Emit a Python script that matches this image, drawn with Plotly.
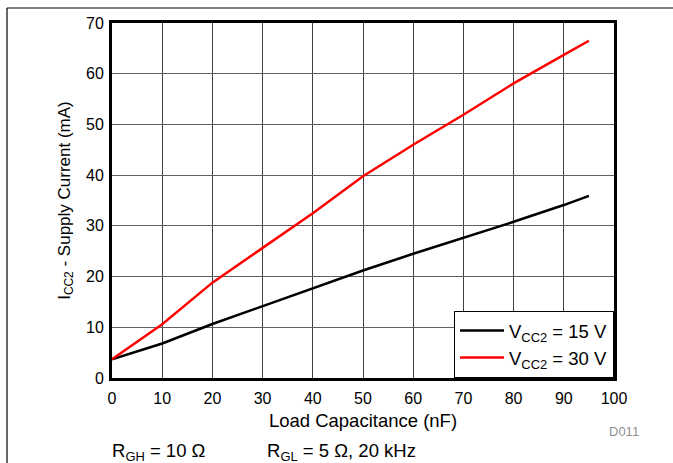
import plotly.graph_objects as go

load_nf = [0, 10, 20, 30, 40, 50, 60, 70, 80, 90, 95]
icc_15v = [3.7, 6.8, 10.65, 14.2, 17.6, 21.2, 24.5, 27.6, 30.8, 34.1, 35.9]
icc_30v = [3.7, 10.6, 18.8, 25.7, 32.5, 39.8, 46.0, 51.9, 58.1, 63.7, 66.5]
series_names = ["V<sub>CC2</sub> = 15 V", "V<sub>CC2</sub> = 30 V"]
x_ticks = list(range(0, 101, 10))
y_ticks = list(range(0, 71, 10))

FONT = "Liberation Sans, Arial, sans-serif"

fig = go.Figure()
fig.add_trace(go.Scatter(x=load_nf, y=icc_15v, mode="lines", name=series_names[0],
                         line=dict(color="black", width=2.5)))
fig.add_trace(go.Scatter(x=load_nf, y=icc_30v, mode="lines", name=series_names[1],
                         line=dict(color="red", width=2.5)))

W, H = 673, 463
L, R, T, B = 112, 614, 23, 378

def px2paper_x(px):
    return (px - L) / (R - L)

def px2paper_y(py):
    return (B - py) / (B - T)

fig.update_layout(
    width=W, height=H,
    margin=dict(l=L, r=W - R, t=T, b=H - B, pad=0),
    paper_bgcolor="white", plot_bgcolor="white",
    font=dict(family=FONT, color="black", size=16),
    showlegend=True,
    legend=dict(x=1, y=0, xanchor="right", yanchor="bottom",
                bgcolor="white", bordercolor="black", borderwidth=1,
                font=dict(size=18.5, family=FONT), tracegroupgap=0,
                itemwidth=44),
    xaxis=dict(range=[0, 100], tickvals=x_ticks, showgrid=True, gridcolor="#404040", gridwidth=1,
               showline=True, linecolor="black", linewidth=3, mirror=True, ticks="",
               zeroline=False, tickfont=dict(size=16), ticklabelstandoff=4,
               title=dict(text="Load Capacitance (nF)", font=dict(size=18.5), standoff=8)),
    yaxis=dict(range=[0, 70], tickvals=y_ticks, showgrid=True, gridcolor="#606060", gridwidth=1,
               showline=True, linecolor="black", linewidth=3, mirror=True, ticks="",
               zeroline=False, tickfont=dict(size=16), ticklabelstandoff=2,
               title=dict(text="I<sub>CC2</sub> - Supply Current (mA)", font=dict(size=17), standoff=12)),
)

# frame lines of the page
fig.add_shape(type="line", xref="paper", yref="paper",
              x0=px2paper_x(7), x1=px2paper_x(673), y0=px2paper_y(8), y1=px2paper_y(8),
              line=dict(color="black", width=1.2))
fig.add_shape(type="line", xref="paper", yref="paper",
              x0=px2paper_x(7), x1=px2paper_x(7), y0=px2paper_y(8), y1=px2paper_y(463),
              line=dict(color="black", width=1.2))

fig.add_annotation(text="D011", xref="paper", yref="paper",
                   x=px2paper_x(641), y=px2paper_y(431), xanchor="right", yanchor="middle",
                   showarrow=False, font=dict(size=13, color="#909090", family=FONT))
fig.add_annotation(text="R<sub>GH</sub> = 10 Ω" + " " * 12 + "R<sub>GL</sub> = 5 Ω, 20 kHz",
                   xref="paper", yref="paper",
                   x=px2paper_x(110), y=px2paper_y(452), xanchor="left", yanchor="middle",
                   showarrow=False, font=dict(size=18.5, color="black", family=FONT))

fig.write_html("out.html", config={"displayModeBar": False},
               post_script="document.body.style.margin='0';document.body.style.overflow='hidden';")
